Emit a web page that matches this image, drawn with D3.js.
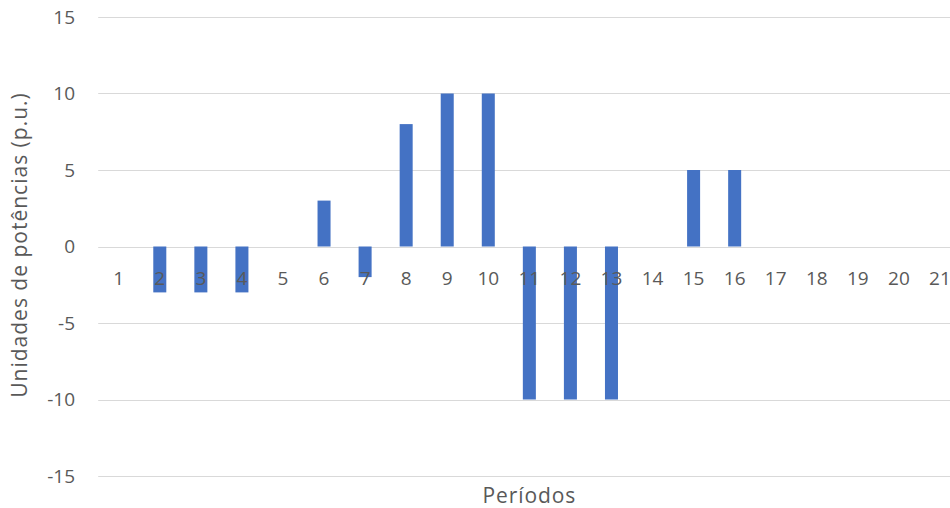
<!DOCTYPE html>
<html>
<head>
<meta charset="utf-8">
<script src="https://cdn.jsdelivr.net/npm/d3@7"></script>
<style>
  html, body { margin: 0; padding: 0; background: #fff; }
  svg { display: block; }
  text { font-family: "Open Sans", sans-serif; fill: #595959; }
</style>
</head>
<body>
<svg id="chart" width="950" height="508"></svg>
<script>
// Periods and power units per period
const periods = ["1","2","3","4","5","6","7","8","9","10","11","12","13","14","15","16","17","18","19","20","21"];
const values  = [0, -3, -3, -3, 0, 3, -2, 8, 10, 10, -10, -10, -10, 0, 5, 5, 0, 0, 0, 0, 0];
const yTicks  = [-15, -10, -5, 0, 5, 10, 15];
const xTitle  = "Períodos";
const yTitle  = "Unidades de potências (p.u.)";

const svg = d3.select("#chart");
const plotLeft = 98.2, plotRight = 960.5, plotTop = 17, plotBottom = 476;

const x = d3.scaleBand().domain(periods).range([plotLeft, plotRight]).paddingInner(0.683).paddingOuter(0.3415);
const y = d3.scaleLinear().domain([-15, 15]).range([plotBottom, plotTop]);

// horizontal gridlines
svg.append("g").selectAll("line").data(yTicks).join("line")
  .attr("x1", plotLeft).attr("x2", 950)
  .attr("y1", d => Math.round(y(d)) + 0.5).attr("y2", d => Math.round(y(d)) + 0.5)
  .attr("stroke", "#d9d9d9").attr("stroke-width", 1);

// y tick labels
svg.append("g").selectAll("text").data(yTicks).join("text")
  .attr("x", 75).attr("y", d => y(d)).attr("dy", "0.35em")
  .attr("text-anchor", "end").style("font-size", "19px")
  .text(d => d);

// bars
svg.append("g").selectAll("rect").data(values).join("rect")
  .attr("x", (d, i) => x(periods[i]))
  .attr("width", x.bandwidth())
  .attr("y", d => y(Math.max(0, d)))
  .attr("height", d => Math.abs(y(d) - y(0)))
  .attr("fill", "#4472c4");

// category labels sit just below the zero line
svg.append("g").selectAll("text").data(periods).join("text")
  .attr("x", d => x(d) + x.bandwidth() / 2).attr("y", 278).attr("dy", "0.35em")
  .attr("text-anchor", "middle").style("font-size", "19px")
  .text(d => d);

// axis titles
svg.append("text").attr("x", (plotLeft + plotRight) / 2).attr("y", 503)
  .attr("text-anchor", "middle").style("font-size", "21px").style("letter-spacing", "0.9px").text(xTitle);

svg.append("text").attr("transform", "translate(20,245) rotate(-90)")
  .attr("dy", "0.35em").attr("text-anchor", "middle").style("font-size", "21px").style("letter-spacing", "1px").text(yTitle);
</script>
</body>
</html>
